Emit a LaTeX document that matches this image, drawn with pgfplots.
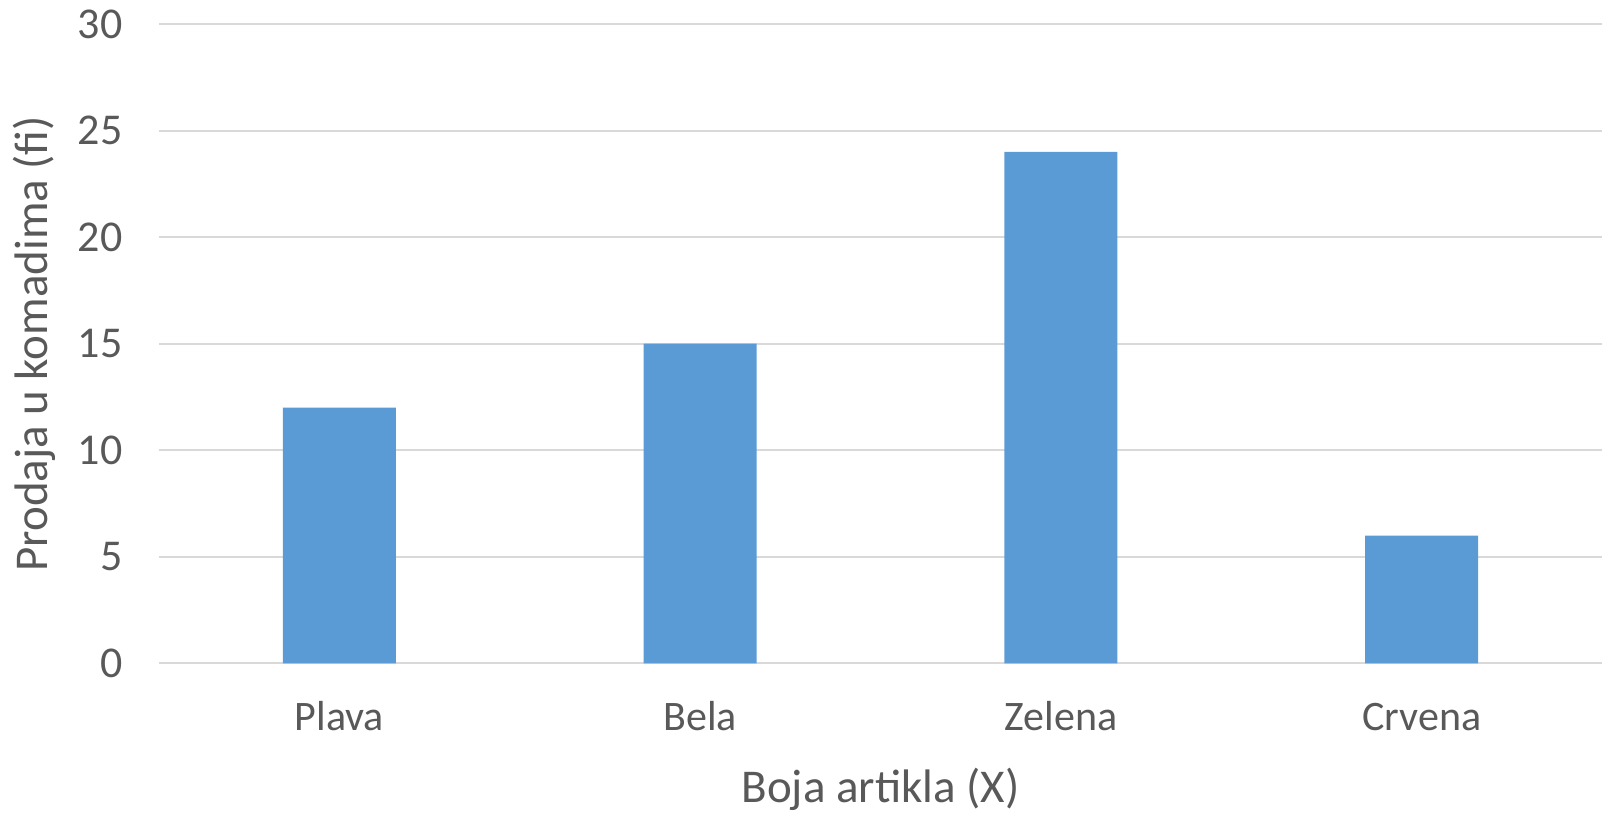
\documentclass[border=0pt]{standalone}
\usepackage{pgfplots}
\pgfplotsset{compat=1.18}
\usepackage{fontspec}
\setmainfont{Carlito}
\definecolor{txtgray}{HTML}{595959}
\definecolor{gridgray}{HTML}{D9D9D9}
\definecolor{barblue}{HTML}{5B9BD5}
\begin{document}
\begin{tikzpicture}
\path[use as bounding box] (0,0) rectangle (804pt,406.5pt);
\begin{axis}[
  name=ax,
  at={(79.5pt,74.75pt)}, anchor=south west,
  scale only axis,
  width=721.5pt, height=319.75pt,
  xmin=-0.5, xmax=3.5,
  ymin=0, ymax=30,
  ytick={0,5,...,30},
  xtick={0,1,2,3},
  xticklabels={Plava,Bela,Zelena,Crvena},
  ymajorgrids,
  grid style={gridgray, line width=1pt},
  axis line style={draw=none},
  major tick length=0pt,
  /pgf/number format/assume math mode=true,
  ticklabel style={font=\fontsize{22}{26}\selectfont, text=txtgray},
  yticklabel style={anchor=east, inner sep=0pt, xshift=-18pt},
  xticklabel style={font=\fontsize{21}{25}\selectfont, anchor=base, inner sep=0pt, yshift=-33.75pt},
  xlabel={Boja artikla (X)},
  label style={font=\fontsize{23.5}{28}\selectfont, text=txtgray},
  xlabel style={at={(axis description cs:0.5,0)}, anchor=base, inner sep=0pt, yshift=-69.75pt},
  ybar, bar width=56.4pt,
]
\draw[gridgray, line width=1pt] (axis cs:-0.5,0) -- (axis cs:3.5,0);
\addplot[fill=barblue, draw=none] coordinates {(0,12) (1,15) (2,24) (3,6)};
\end{axis}
% vertical axis title
\node[rotate=90, anchor=base, inner sep=0pt, text=txtgray,
      font=\fontsize{23.5}{28}\selectfont]
  at ([xshift=-55.5pt]ax.west) {Prodaja u komadima (f{}i)};
\end{tikzpicture}
\end{document}
